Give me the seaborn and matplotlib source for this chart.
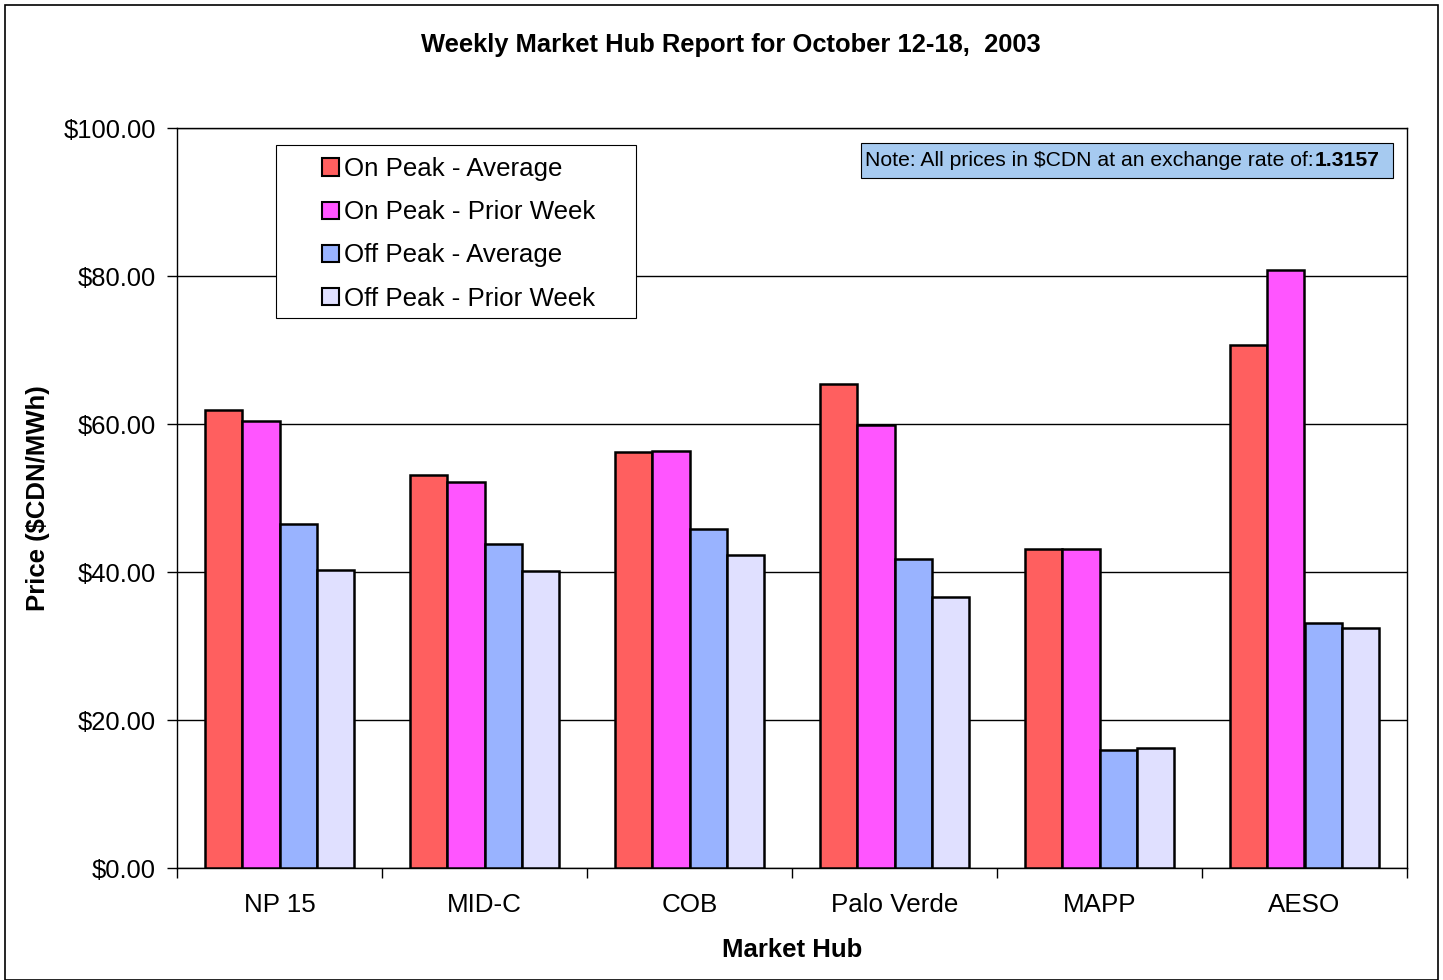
import numpy as np
import pandas as pd
import matplotlib
matplotlib.use("Agg")
import matplotlib.pyplot as plt
import matplotlib.patches as mpatches
import seaborn as sns

hubs = ["NP 15", "MID-C", "COB", "Palo Verde", "MAPP", "AESO"]
series = ["On Peak - Average", "On Peak - Prior Week", "Off Peak - Average", "Off Peak - Prior Week"]
on_peak_avg = [61.9, 53.1, 56.2, 65.4, 43.1, 70.7]
on_peak_prior = [60.4, 52.2, 56.4, 59.9, 43.1, 80.8]
off_peak_avg = [46.5, 43.8, 45.8, 41.8, 15.9, 33.1]
off_peak_prior = [40.3, 40.1, 42.3, 36.6, 16.2, 32.4]
colors = ["#FF5F5F", "#FF55FF", "#99B3FF", "#E0E0FF"]
yticks = [0, 20, 40, 60, 80, 100]

rows = []
for s, vals in zip(series, [on_peak_avg, on_peak_prior, off_peak_avg, off_peak_prior]):
    for h, v in zip(hubs, vals):
        rows.append({"Hub": h, "Series": s, "Price": v})
df = pd.DataFrame(rows)

sns.set_theme(style="white")
plt.rcParams["font.family"] = ["Liberation Sans", "DejaVu Sans"]
plt.rcParams["text.color"] = "black"
plt.rcParams["axes.labelcolor"] = "black"
plt.rcParams["xtick.color"] = "black"
plt.rcParams["ytick.color"] = "black"

W, H = 1443, 980
L, R, T, B = 177, 1407, 128, 868
fig = plt.figure(figsize=(W / 100, H / 100), dpi=100)
ax = fig.add_axes([L / W, 1 - B / H, (R - L) / W, (B - T) / H])

def ax_x(px):
    return (px - L) / (R - L)

def ax_y(py):
    return (B - py) / (B - T)

sns.barplot(data=df, x="Hub", y="Price", hue="Series", order=hubs, hue_order=series,
            palette=colors, width=0.727, gap=0, edgecolor="black", linewidth=1.8,
            saturation=1, ax=ax, legend=False, zorder=3)

ax.set_ylim(0, 100)
ax.set_xlim(-0.5, len(hubs) - 0.5)
ax.set_yticks(yticks)
ax.set_yticklabels([f"${v:.2f}" for v in yticks], fontsize=18.4)
ax.yaxis.grid(True, color="black", linewidth=1.0, zorder=0)
ax.set_axisbelow(True)
ax.set_xticks(range(len(hubs)))
ax.set_xticklabels(hubs, fontsize=18.7)
ax.tick_params(axis="x", which="major", length=0, pad=18, labelcolor="black")
ax.set_xticks(np.arange(-0.5, len(hubs)), minor=True)
ax.tick_params(axis="x", which="minor", length=7, width=1, color="black", bottom=True)
ax.tick_params(axis="y", which="major", length=7, width=1, color="black", left=True, pad=8,
               labelcolor="black")
for sp in ax.spines.values():
    sp.set_color("black")
    sp.set_linewidth(1.0)
    sp.set_visible(True)

ax.set_xlabel("Market Hub", fontsize=18.5, fontweight="bold", labelpad=15, color="black")
ax.set_ylabel("Price ($CDN/MWh)", fontsize=18.5, fontweight="bold", labelpad=10, color="black")
fig.text(0.5065, 1 - 45 / H, "Weekly Market Hub Report for October 12-18,  2003",
         ha="center", va="center", fontsize=18.4, fontweight="bold", color="black")

# legend frame
ax.add_patch(mpatches.Rectangle((ax_x(276), ax_y(318)), (636 - 276) / (R - L), (318 - 145) / (B - T),
                                transform=ax.transAxes, facecolor="white", edgecolor="black",
                                linewidth=0.8, zorder=5))
handles = [mpatches.Patch(facecolor=c, edgecolor="black", linewidth=1.5) for c in colors]
leg = ax.legend(handles, series, loc="upper left", bbox_to_anchor=(ax_x(317), ax_y(152)),
                fontsize=18.6, frameon=False, handlelength=0.65, handleheight=0.65,
                handletextpad=0.2, labelspacing=0.74, borderpad=0.2, borderaxespad=0,
                labelcolor="black")
leg.set_zorder(6)

# note box
ax.add_patch(mpatches.Rectangle((ax_x(861), ax_y(178)), (1393 - 861) / (R - L), (178 - 143) / (B - T),
                                transform=ax.transAxes, facecolor="#A6CAF0", edgecolor="black",
                                linewidth=0.8, zorder=6))
ax.text(ax_x(865), ax_y(160), "Note: All prices in $CDN at an exchange rate of:", transform=ax.transAxes,
        ha="left", va="center", fontsize=15.2, zorder=7, color="black")
ax.text(ax_x(1380), ax_y(160), "1.3157", transform=ax.transAxes, ha="right", va="center",
        fontsize=15.2, fontweight="bold", zorder=7, color="black")

fig.patches.append(mpatches.Rectangle((5 / W, 0.0), 1433 / W, 975 / H, transform=fig.transFigure,
                                      fill=False, edgecolor="black", linewidth=1.2))

fig.savefig("out.png", dpi=100)
